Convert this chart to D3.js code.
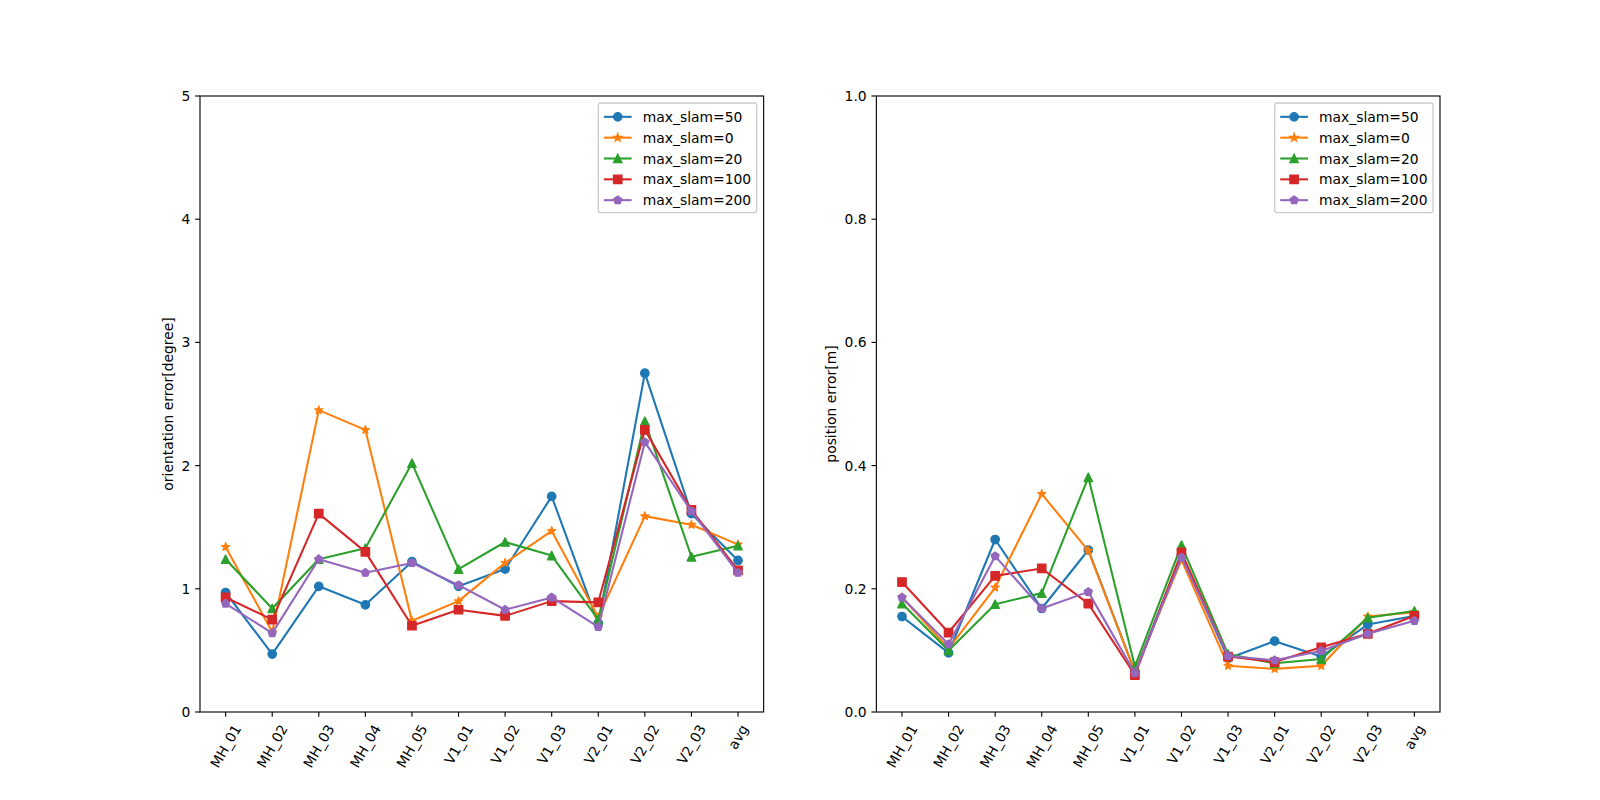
<!DOCTYPE html>
<html><head><meta charset="utf-8">
<script src="https://cdn.jsdelivr.net/npm/d3@7"></script>
<style>body{margin:0;background:#fff}svg{display:block}text{font-family:"DejaVu Sans",sans-serif}</style>
</head><body><svg id="c" width="1600" height="800"></svg>
<script>
const categories = ["MH_01","MH_02","MH_03","MH_04","MH_05","V1_01","V1_02","V1_03","V2_01","V2_02","V2_03","avg"];
const seriesNames = ["max_slam=50","max_slam=0","max_slam=20","max_slam=100","max_slam=200"];
const seriesColors = ["#1f77b4","#ff7f0e","#2ca02c","#d62728","#9467bd"];
const seriesMarkers = ["circle","star","triangle","square","pentagon"];

const orient50  = [0.97,0.47,1.02,0.87,1.22,1.02,1.16,1.75,0.72,2.75,1.61,1.23];
const orient0   = [1.34,0.65,2.45,2.29,0.74,0.90,1.21,1.47,0.77,1.59,1.52,1.36];
const orient20  = [1.24,0.84,1.24,1.33,2.02,1.16,1.38,1.27,0.75,2.36,1.26,1.35];
const orient100 = [0.93,0.75,1.61,1.30,0.70,0.83,0.78,0.90,0.89,2.29,1.64,1.15];
const orient200 = [0.88,0.64,1.24,1.13,1.21,1.03,0.83,0.93,0.69,2.19,1.63,1.13];

const pos50  = [0.155,0.096,0.280,0.168,0.263,0.065,0.255,0.087,0.115,0.090,0.142,0.156];
const pos0   = [0.186,0.103,0.202,0.354,0.262,0.065,0.247,0.075,0.070,0.075,0.155,0.162];
const pos20  = [0.176,0.100,0.175,0.193,0.381,0.074,0.271,0.094,0.079,0.086,0.153,0.164];
const pos100 = [0.211,0.129,0.221,0.233,0.176,0.060,0.259,0.090,0.081,0.105,0.127,0.156];
const pos200 = [0.186,0.110,0.253,0.168,0.195,0.063,0.251,0.091,0.084,0.099,0.127,0.148];

const orientTicks = [0,1,2,3,4,5];
const posTicks = [0.0,0.2,0.4,0.6,0.8,1.0];

(function(){
const svg = d3.select("#c");
const FS = 13.89;
const pt = 100/72;

function markerPath(type, s) {
  const r = s/2;
  const p = d3.path();
  if (type === "circle") { p.arc(0,0,r,0,2*Math.PI); return p.toString(); }
  if (type === "square") { p.rect(-r,-r,2*r,2*r); return p.toString(); }
  if (type === "triangle") { p.moveTo(0,-r); p.lineTo(-r,r); p.lineTo(r,r); p.closePath(); return p.toString(); }
  const n = 5, inner = 0.381966;
  const pts = [];
  if (type === "pentagon") {
    for (let i=0;i<n;i++){ const a = -Math.PI/2 + i*2*Math.PI/n; pts.push([r*Math.cos(a), r*Math.sin(a)]); }
  } else {
    for (let i=0;i<2*n;i++){ const a = -Math.PI/2 + i*Math.PI/n; const rr = i%2===0 ? r : r*inner; pts.push([rr*Math.cos(a), rr*Math.sin(a)]); }
  }
  pts.forEach((q,i)=> i===0 ? p.moveTo(q[0],q[1]) : p.lineTo(q[0],q[1]));
  p.closePath(); return p.toString();
}

function drawPanel(x0, x1, y0, y1, series, ticks, fmt, ylabel) {
  const g = svg.append("g");
  const n = categories.length;
  const x = d3.scaleLinear().domain([-0.55, n-1+0.55]).range([x0, x1]);
  const y = d3.scaleLinear().domain([ticks[0], ticks[ticks.length-1]]).range([y1, y0]);

  series.forEach((vals, si) => {
    const line = d3.line().x((d,i)=>x(i)).y(d=>y(d));
    g.append("path").attr("d", line(vals)).attr("fill","none")
      .attr("stroke", seriesColors[si]).attr("stroke-width", 1.5*pt).attr("stroke-linejoin","round").attr("stroke-linecap","square");
    g.selectAll(null).data(vals).enter().append("path")
      .attr("transform",(d,i)=>`translate(${x(i)},${y(d)})`)
      .attr("d", markerPath(seriesMarkers[si], 6*pt))
      .attr("fill", seriesColors[si]).attr("stroke", seriesColors[si]).attr("stroke-width", 1*pt).attr("stroke-linejoin","round");
  });

  g.append("rect").attr("x",x0).attr("y",y0).attr("width",x1-x0).attr("height",y1-y0)
    .attr("fill","none").attr("stroke","#000").attr("stroke-width",0.8*pt);

  const tl = 3.5*pt, pad = 3.5*pt;
  const yt = g.append("g");
  ticks.forEach(t => {
    yt.append("line").attr("x1",x0).attr("x2",x0-tl).attr("y1",y(t)).attr("y2",y(t)).attr("stroke","#000").attr("stroke-width",0.8*pt);
    yt.append("text").attr("x",x0-tl-pad).attr("y",y(t)).attr("text-anchor","end").attr("dominant-baseline","central")
      .attr("font-size",FS).text(fmt(t));
  });
  let maxW = 0;
  yt.selectAll("text").each(function(){ maxW = Math.max(maxW, this.getComputedTextLength()); });
  const ylx = x0 - tl - pad - maxW - 4*pt - FS*0.58;
  g.append("text").attr("transform",`translate(${ylx},${(y0+y1)/2}) rotate(-90)`).attr("text-anchor","middle")
    .attr("dominant-baseline","central").attr("font-size",FS).text(ylabel);

  categories.forEach((c,i) => {
    const xx = x(i);
    g.append("line").attr("x1",xx).attr("x2",xx).attr("y1",y1).attr("y2",y1+tl).attr("stroke","#000").attr("stroke-width",0.8*pt);
    const t = g.append("text").attr("font-size",FS).attr("text-anchor","middle").attr("dominant-baseline","central").text(c);
    const w = t.node().getComputedTextLength();
    const h = FS*1.17;
    const a = Math.PI/3;
    const bh = w*Math.sin(a) + h*Math.cos(a);
    const cy = y1 + tl + pad + bh/2;
    t.attr("transform",`translate(${xx},${cy}) rotate(-60)`);
  });

  const bp = 0.4*FS, hl = 2*FS, htp = 0.8*FS, rowH = 1.5*FS;
  const lg = g.append("g");
  const rect = lg.append("rect");
  const texts = seriesNames.map((s,i)=> lg.append("text").attr("font-size",FS).attr("dominant-baseline","central").text(s));
  let tw = 0; texts.forEach(t=> tw = Math.max(tw, t.node().getComputedTextLength()));
  const lw = bp*2 + hl + htp + tw;
  const lh = bp*2 + rowH*seriesNames.length - 0.5*FS + 0.1*FS;
  const lx = x1 - 0.5*FS - lw, ly = y0 + 0.5*FS;
  rect.attr("x",lx).attr("y",ly).attr("width",lw).attr("height",lh).attr("rx",0.2*FS)
    .attr("fill","#fff").attr("fill-opacity",0.8).attr("stroke","#cccccc").attr("stroke-width",1*pt);
  seriesNames.forEach((s,i)=>{
    const cy = ly + bp + 0.55*FS + i*rowH + 0.05*FS;
    lg.append("line").attr("x1",lx+bp).attr("x2",lx+bp+hl).attr("y1",cy).attr("y2",cy)
      .attr("stroke",seriesColors[i]).attr("stroke-width",1.5*pt);
    lg.append("path").attr("transform",`translate(${lx+bp+hl/2},${cy})`).attr("d",markerPath(seriesMarkers[i],6*pt))
      .attr("fill",seriesColors[i]).attr("stroke",seriesColors[i]).attr("stroke-width",1*pt);
    texts[i].attr("x", lx+bp+hl+htp).attr("y", cy);
  });
}

const W = 1600, H = 800;
const pl = 0.125*W, pr = 0.9*W, pt0 = (1-0.88)*H, pb = (1-0.11)*H;
const aw = (pr-pl)/2.2;
drawPanel(pl, pl+aw, pt0, pb, [orient50,orient0,orient20,orient100,orient200], orientTicks, d3.format("d"), "orientation error[degree]");
drawPanel(pr-aw, pr, pt0, pb, [pos50,pos0,pos20,pos100,pos200], posTicks, d3.format(".1f"), "position error[m]");
})();
</script></body></html>
